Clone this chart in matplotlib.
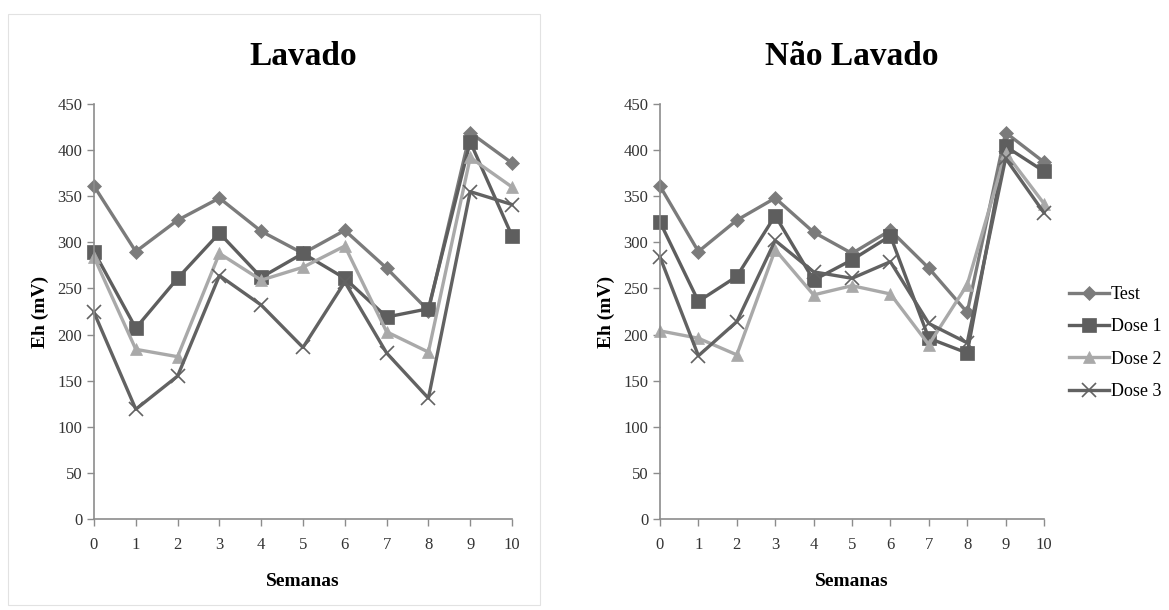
import matplotlib
matplotlib.use('Agg')
import matplotlib.pyplot as plt
from matplotlib.patches import Rectangle

plt.rcParams['font.family'] = ['Liberation Serif', 'DejaVu Serif']

semanas = list(range(11))
series_names = ['Test', 'Dose 1', 'Dose 2', 'Dose 3']

# Lavado
lav_test = [361, 290, 324, 348, 312, 288, 313, 272, 226, 419, 386]
lav_dose1 = [290, 207, 261, 310, 262, 288, 261, 219, 228, 409, 307]
lav_dose2 = [284, 184, 176, 288, 259, 273, 296, 203, 181, 392, 360]
lav_dose3 = [224, 119, 155, 264, 232, 186, 257, 180, 131, 355, 341]

# Não Lavado
nlav_test = [361, 290, 324, 348, 311, 288, 313, 272, 224, 419, 387]
nlav_dose1 = [322, 236, 263, 329, 259, 281, 307, 196, 180, 404, 377]
nlav_dose2 = [204, 196, 178, 292, 243, 253, 244, 189, 254, 397, 342]
nlav_dose3 = [284, 177, 214, 302, 268, 261, 279, 212, 191, 391, 332]

colors = ['#7b7b7b', '#5e5e5e', '#a9a9a9', '#626262']
markers = ['D', 's', '^', 'x']
msizes = [7, 10, 8, 10]

fig = plt.figure(figsize=(11.69, 6.10), dpi=100)
fig.patch.set_facecolor('white')

# light frame around the left chart
fig.patches.append(Rectangle((8/1169, 5/610), 532/1169, 591/610, transform=fig.transFigure,
                             fill=False, edgecolor='#e2e2e2', lw=0.8))

ax1 = fig.add_axes([94/1169, 91/610, 418/1169, 415/610])
ax2 = fig.add_axes([660/1169, 91/610, 384/1169, 415/610])


def draw(ax, data, title):
    for vals, c, m, ms, name in zip(data, colors, markers, msizes, series_names):
        ax.plot(semanas, vals, color=c, lw=2.4, marker=m, markersize=ms,
                markeredgewidth=1.2 if m == 'x' else 0.5, markeredgecolor=c,
                label=name, clip_on=False)
    ax.set_xlim(0, 10)
    ax.set_ylim(0, 450)
    ax.set_xticks(semanas)
    ax.set_yticks(range(0, 451, 50))
    for s in ['top', 'right']:
        ax.spines[s].set_visible(False)
    for s in ['left', 'bottom']:
        ax.spines[s].set_color('#8c8c8c')
        ax.spines[s].set_linewidth(1.2)
    ax.tick_params(axis='both', colors='#8c8c8c', labelcolor='#333333',
                   labelsize=12, length=5, width=1, direction='out')
    ax.tick_params(axis='x', pad=8)
    ax.set_title(title, fontsize=24, fontweight='bold', pad=28)
    ax.set_xlabel('Semanas', fontsize=14, fontweight='bold', labelpad=14)
    ax.set_ylabel('Eh (mV)', fontsize=14, fontweight='bold', labelpad=6)


draw(ax1, [lav_test, lav_dose1, lav_dose2, lav_dose3], 'Lavado')
draw(ax2, [nlav_test, nlav_dose1, nlav_dose2, nlav_dose3], 'Não Lavado')

ax2.legend(loc='center left', bbox_to_anchor=(1.0, 0.424), frameon=False,
           fontsize=13, handlelength=2.2, handletextpad=0.1, labelspacing=0.85,
           borderaxespad=1.0)

fig.savefig('out.png', dpi=100, facecolor='white')
